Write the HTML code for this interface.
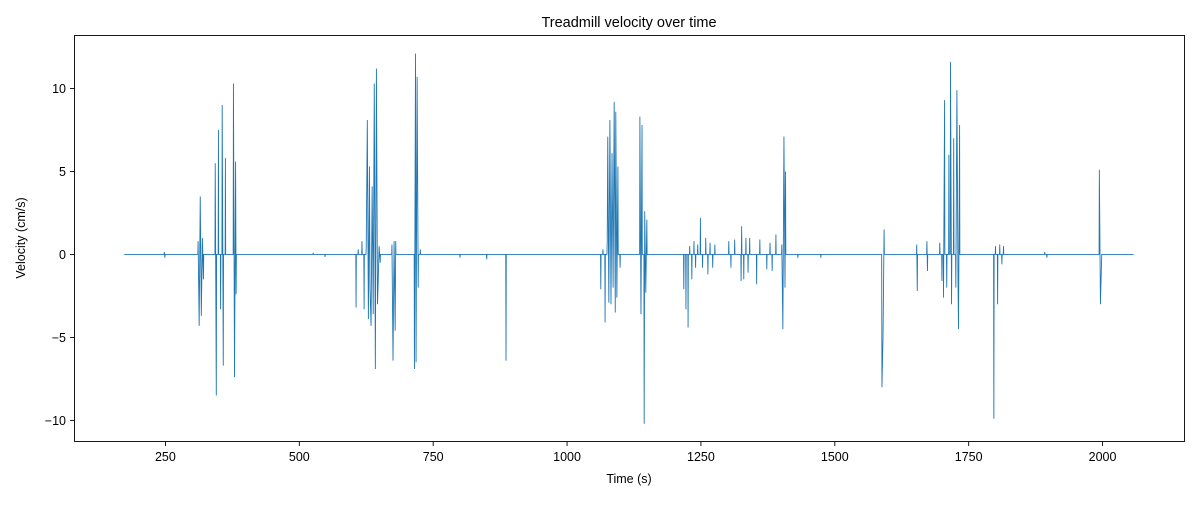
<!DOCTYPE html>
<html><head><meta charset="utf-8">
<style>
body{margin:0;background:#fff;font-family:"Liberation Sans","DejaVu Sans",sans-serif;}
svg text{font-family:"Liberation Sans","DejaVu Sans",sans-serif;fill:#000;}
</style></head>
<body>
<svg id="chart" width="1200" height="500" xmlns="http://www.w3.org/2000/svg">
<rect width="1200" height="500" fill="#fff"/>
<text x="629" y="27" font-size="14.5" text-anchor="middle">Treadmill velocity over time</text>
<g id="plot"></g>
<rect x="74.5" y="35.5" width="1110" height="406" fill="none" stroke="#000" stroke-width="0.9"/>
<g id="xaxis"></g>
<g id="yaxis"></g>
<text x="629" y="483" font-size="12.5" text-anchor="middle">Time (s)</text>
<text transform="translate(25,238) rotate(-90)" font-size="12.5" text-anchor="middle">Velocity (cm/s)</text>
</svg>
<script>
const xTicks=[250,500,750,1000,1250,1500,1750,2000];
const yTicks=[-10,-5,0,5,10];
const times=[
173,248,249,311,313,315,317,319,321,343,345,349,353,356,358,362,377,379,381,382,
526,548,
606,610,617,621,625,627,629,631,632,634,636,638,640,642,644,646,647,649,651,
673,675,677,679,680,
715,717,718,720,722,726,
800,850,886,
1063,1067,1071,1075,1076,1078,1080,1082,1084,1086,1088,1090,1091,1093,1095,1099,
1136,1138,1140,1144,1145,1147,1149,
1218,1222,1226,1229,1233,1237,1240,1244,1249,1253,
1259,1263,1267,1272,1276,
1302,1306,1313,
1325,1326,1330,1334,1338,1341,
1354,1360,
1373,1379,1383,1390,
1401,1403,1405,1407,1408,
1431,1474,
1588,1590,1592,
1653,1654,1672,1673,
1696,1700,1703,1705,1709,1713,1716,1718,1722,1726,1728,1730,1731,1733,
1797,1800,1804,1808,1812,1815,
1892,1896,
1994,1996,1998,2058];
const vels=[
0,0.15,-0.2,0.8,-4.3,3.5,-3.7,1.0,-1.5,5.5,-8.5,7.5,-3.3,9.0,-6.7,5.8,10.3,-7.4,5.6,-2.4,
0.1,-0.15,
-3.2,0.3,0.8,-3.3,0.5,8.1,-3.9,5.3,-2.0,-4.3,4.1,-3.6,10.3,-6.9,11.2,-3.0,-2.0,0.5,-0.5,
0.6,-6.4,0.8,-4.6,0.8,
-6.9,12.1,-6.5,10.7,-2.0,0.3,
-0.2,-0.3,-6.4,
-2.1,0.3,-4.1,0.8,7.1,-2.9,8.1,-3.0,6.1,-2.0,9.2,-3.5,8.6,-2.6,5.3,-0.8,
8.3,-3.6,7.8,-10.2,2.6,-2.3,2.1,
-2.1,-3.3,-4.4,0.5,-1.5,0.8,-0.8,0.6,2.2,-0.8,
1.0,-1.2,0.7,-0.8,0.6,
0.8,-0.8,0.9,
-1.6,1.7,-1.5,1.0,-1.1,1.0,
-1.8,0.9,
-0.9,0.7,-1.0,1.2,
0.6,-4.5,7.1,-2.0,5.0,
-0.2,-0.2,
-8.0,-5.0,1.5,
0.6,-2.2,0.8,-1.0,
0.7,-1.6,-2.6,9.3,-2.0,6.0,11.6,-3.0,7.0,-2.0,9.9,-1.5,-4.5,7.8,
-9.9,0.5,-3.0,0.6,-0.6,0.5,
0.15,-0.2,
5.1,-3.0,-0.5,0];
const X0=80.2,X1=2153,PX0=74.5,PX1=1184.5;
const Y0=-11.27,Y1=13.19,PY0=441.5,PY1=35.5;
const xs=v=>PX0+(v-X0)/(X1-X0)*(PX1-PX0);
const ys=v=>PY0+(v-Y0)/(Y1-Y0)*(PY1-PY0);
const NS="http://www.w3.org/2000/svg";
const plot=document.getElementById('plot');
let d='M'+xs(times[0]).toFixed(2)+','+ys(0).toFixed(2);
const n=Math.min(times.length,vels.length);
for(let i=0;i<n;i++){
  if(i>0&&times[i]-times[i-1]>2.5){d+=' L'+xs(times[i-1]+0.5).toFixed(2)+','+ys(0).toFixed(2)+' L'+xs(times[i]-0.5).toFixed(2)+','+ys(0).toFixed(2);}
  d+=' L'+xs(times[i]).toFixed(2)+','+ys(vels[i]).toFixed(2);
}
const p=document.createElementNS(NS,'path');
p.setAttribute('d',d);p.setAttribute('fill','none');p.setAttribute('stroke','#1f77b4');p.setAttribute('stroke-width','0.9');


plot.appendChild(p);
const xa=document.getElementById('xaxis');
xTicks.forEach(t=>{
  const x=xs(t);
  const l=document.createElementNS(NS,'line');
  l.setAttribute('x1',x);l.setAttribute('x2',x);l.setAttribute('y1',441.5);l.setAttribute('y2',446);l.setAttribute('stroke','#000');l.setAttribute('stroke-width','0.9');
  
  
  xa.appendChild(l);
  const tx=document.createElementNS(NS,'text');
  tx.setAttribute('x',x);tx.setAttribute('y',461);tx.setAttribute('font-size','12.5');tx.setAttribute('text-anchor','middle');tx.textContent=t;
  
  
  xa.appendChild(tx);
});
const ya=document.getElementById('yaxis');
yTicks.forEach(t=>{
  const y=ys(t);
  const l=document.createElementNS(NS,'line');
  l.setAttribute('x1',70);l.setAttribute('x2',74.5);l.setAttribute('y1',y);l.setAttribute('y2',y);l.setAttribute('stroke','#000');l.setAttribute('stroke-width','0.9');
  
  
  ya.appendChild(l);
  const tx=document.createElementNS(NS,'text');
  tx.setAttribute('x',66);tx.setAttribute('y',y+4.5);tx.setAttribute('font-size','12.5');tx.setAttribute('text-anchor','end');tx.textContent=t<0?'\u2212'+Math.abs(t):t;
  
  
  ya.appendChild(tx);
});
</script>
</body></html>
